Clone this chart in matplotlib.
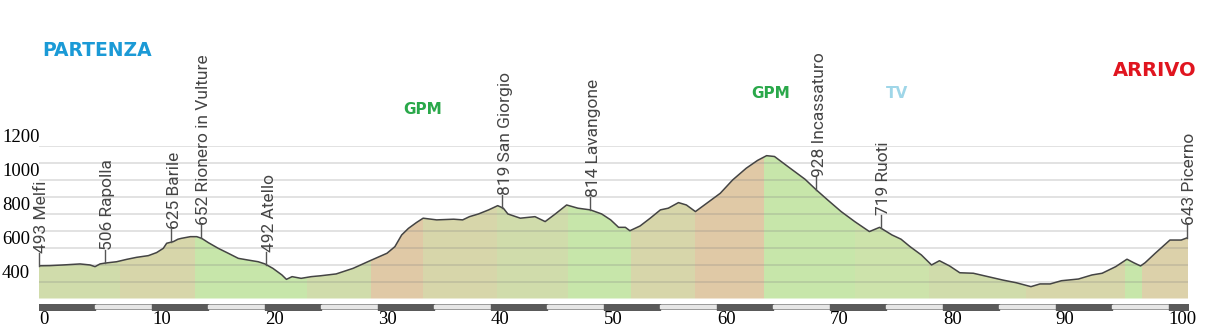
import numpy as np
import matplotlib.pyplot as plt
from matplotlib.patches import Polygon
from matplotlib.transforms import blended_transform_factory

# profilo altimetrico (km, quota m)
km = [0.0, 0.97, 2.15, 3.63, 4.51, 4.96, 5.40, 5.84, 6.87, 7.76, 8.64, 9.68, 10.41, 11.0, 11.3,
      11.9, 12.3, 12.6, 13.4, 13.96, 14.4, 14.98, 15.87, 16.75, 17.64, 18.5, 19.4, 20.0, 20.7,
      21.5, 21.9, 22.4, 23.2, 24.1, 24.9, 26.3, 27.8, 29.3, 30.8, 31.5, 32.1, 32.7, 33.4, 34.0,
      35.2, 36.7, 37.5, 38.1, 38.9, 39.8, 40.6, 41.1, 41.5, 42.6, 43.9, 44.8, 45.7, 46.7, 47.7,
      48.8, 49.8, 50.6, 51.3, 51.9, 52.3, 53.2, 54.1, 55.0, 55.7, 56.6, 57.3, 58.1, 59.1, 60.3,
      61.4, 62.6, 63.6, 64.4, 65.1, 66.3, 67.8, 68.8, 69.8, 71.0, 72.2, 73.5, 74.4, 75.5, 76.3,
      77.1, 78.1, 79.0, 79.7, 80.6, 81.5, 82.7, 84.0, 85.3, 86.5, 87.8, 88.6, 89.5, 90.5, 92.0,
      93.2, 94.1, 95.3, 96.3, 96.9, 97.5, 97.9, 98.8, 100.1, 101.1, 101.7]
quota = [493, 494, 498, 504, 498, 488, 504, 509, 517, 531, 543, 553, 571, 596, 626,
         636, 650, 655, 665, 665, 655, 630, 596, 567, 537, 527, 517, 504, 478,
         439, 413, 429, 419, 429, 434, 445, 478, 523, 567, 606, 675, 714, 748, 774,
         764, 768, 764, 783, 799, 823, 848, 833, 799, 774, 783, 754, 799, 852, 833,
         823, 799, 764, 720, 720, 700, 728, 774, 823, 833, 866, 852, 813, 862, 921,
         1000, 1069, 1115, 1143, 1138, 1078, 1004, 941, 882, 813, 754, 695, 720, 675, 650,
         606, 557, 498, 523, 492, 452, 449, 429, 409, 393, 370, 386, 386, 405, 415,
         439, 449, 488, 532, 511, 492, 511, 567, 645, 645, 660]

localita = ['493 Melfi', '506 Rapolla', '625 Barile', '652 Rionero in Vulture', '492 Atello',
            '819 San Giorgio', '814 Lavangone', '928 Incassaturo', '719 Ruoti', '643 Picerno']
localita_km = [0.0, 5.8, 11.7, 14.3, 20.1, 41.0, 48.8, 68.8, 74.5, 101.6]

# fasce di pendenza
fasce_km = [0, 7.2, 13.8, 23.7, 29.4, 34.0, 40.5, 46.8, 52.4, 58.1, 64.2, 72.2, 78.8,
            87.4, 96.1, 97.6, 101.7]
fasce_tipo = ['olive', 'khaki', 'green', 'olive', 'tan', 'khaki', 'olive', 'green', 'khaki',
              'tan', 'green', 'green2', 'olive', 'khaki', 'green', 'khaki2']
colori = {'olive': '#d0dcab', 'khaki': '#d7d6aa', 'green': '#c7e6aa', 'green2': '#cde3ab',
          'tan': '#e0c9a6', 'khaki2': '#dcd1aa'}

y_lab = [400, 600, 800, 1000, 1200]
x_lab = list(range(0, 101, 10))
km_tot = 101.7

W, H = 1211, 326
fig = plt.figure(figsize=(W / 100, H / 100), dpi=100)
ax = fig.add_axes([39 / W, 1 - 298.5 / H, (1188 - 39) / W, (298.5 - 146) / H])
ax.set_xlim(0, km_tot)
ax.set_ylim(300, 1200)
ax.axis('off')

# area sotto il profilo, colorata a fasce
poly = Polygon(np.column_stack([[0] + km + [km_tot], [300] + quota + [300]]),
               facecolor='none', edgecolor='none')
ax.add_patch(poly)
for a, b, t in zip(fasce_km[:-1], fasce_km[1:], fasce_tipo):
    span = ax.axvspan(a, b, color=colori[t], lw=0, zorder=1)
    span.set_clip_path(poly)

for y in range(400, 1201, 100):
    ax.axhline(y, color='#808080', alpha=0.25, lw=1.3, zorder=2)

ax.plot(km, quota, color='#444444', lw=1.1, zorder=3)

# localita
px_per_m = (298.5 - 146) / 900
tick = 13 / px_per_m
for nome, k in zip(localita, localita_km):
    q = np.interp(k, km, quota)
    ax.plot([k, k], [q, q + tick], color='#555555', lw=1.0, zorder=3, clip_on=False)
    ax.annotate(nome, xy=(k, q + tick), xytext=(3, 0), textcoords='offset pixels',
                rotation=90, ha='center', va='bottom', fontsize=12.5,
                family='Roboto', color='#454545', zorder=4)

# assi
tr_y = blended_transform_factory(fig.transFigure, ax.transData)
for v in y_lab:
    ax.text(2 / W, v, str(v), transform=tr_y, ha='left', va='bottom',
            family='Liberation Serif', fontsize=13.5)

tr_x = blended_transform_factory(ax.transData, fig.transFigure)
for v in x_lab:
    ax.text(v, 1 - 319 / H, str(v), transform=tr_x, ha='left', va='center',
            family='Liberation Serif', fontsize=13.5)

# barra delle distanze
axb = fig.add_axes([39 / W, 1 - 310 / H, (1188 - 39) / W, 6 / H])
axb.set_xlim(0, km_tot)
axb.set_ylim(0, 1)
axb.axis('off')
axb.axhspan(0, 1, color='#8a8a8a')
seg = np.arange(0, km_tot, 5)
for i, s in enumerate(seg):
    w = min(5, km_tot - s)
    if i % 2 == 0:
        axb.broken_barh([(s, w)], (0, 1), color='#5a5a5a')
    else:
        axb.broken_barh([(s, w)], (0.25, 0.5), color='#e6e6e6')

# scritte in alto
fig.text(97 / W, 1 - 50 / H, 'PARTENZA', ha='center', va='center', fontsize=13.5,
         weight='bold', color='#1b9ad6')
fig.text(1155 / W, 1 - 70 / H, 'ARRIVO', ha='center', va='center', fontsize=14,
         weight='bold', color='#e0151f')
fig.text(423 / W, 1 - 109.5 / H, 'GPM', ha='center', va='center', fontsize=11,
         weight='bold', color='#2aa84a')
fig.text(771 / W, 1 - 93.5 / H, 'GPM', ha='center', va='center', fontsize=11,
         weight='bold', color='#2aa84a')
fig.text(897 / W, 1 - 93 / H, 'TV', ha='center', va='center', fontsize=11,
         weight='bold', color='#9fd6e8')

fig.savefig('out.png', dpi=100)
